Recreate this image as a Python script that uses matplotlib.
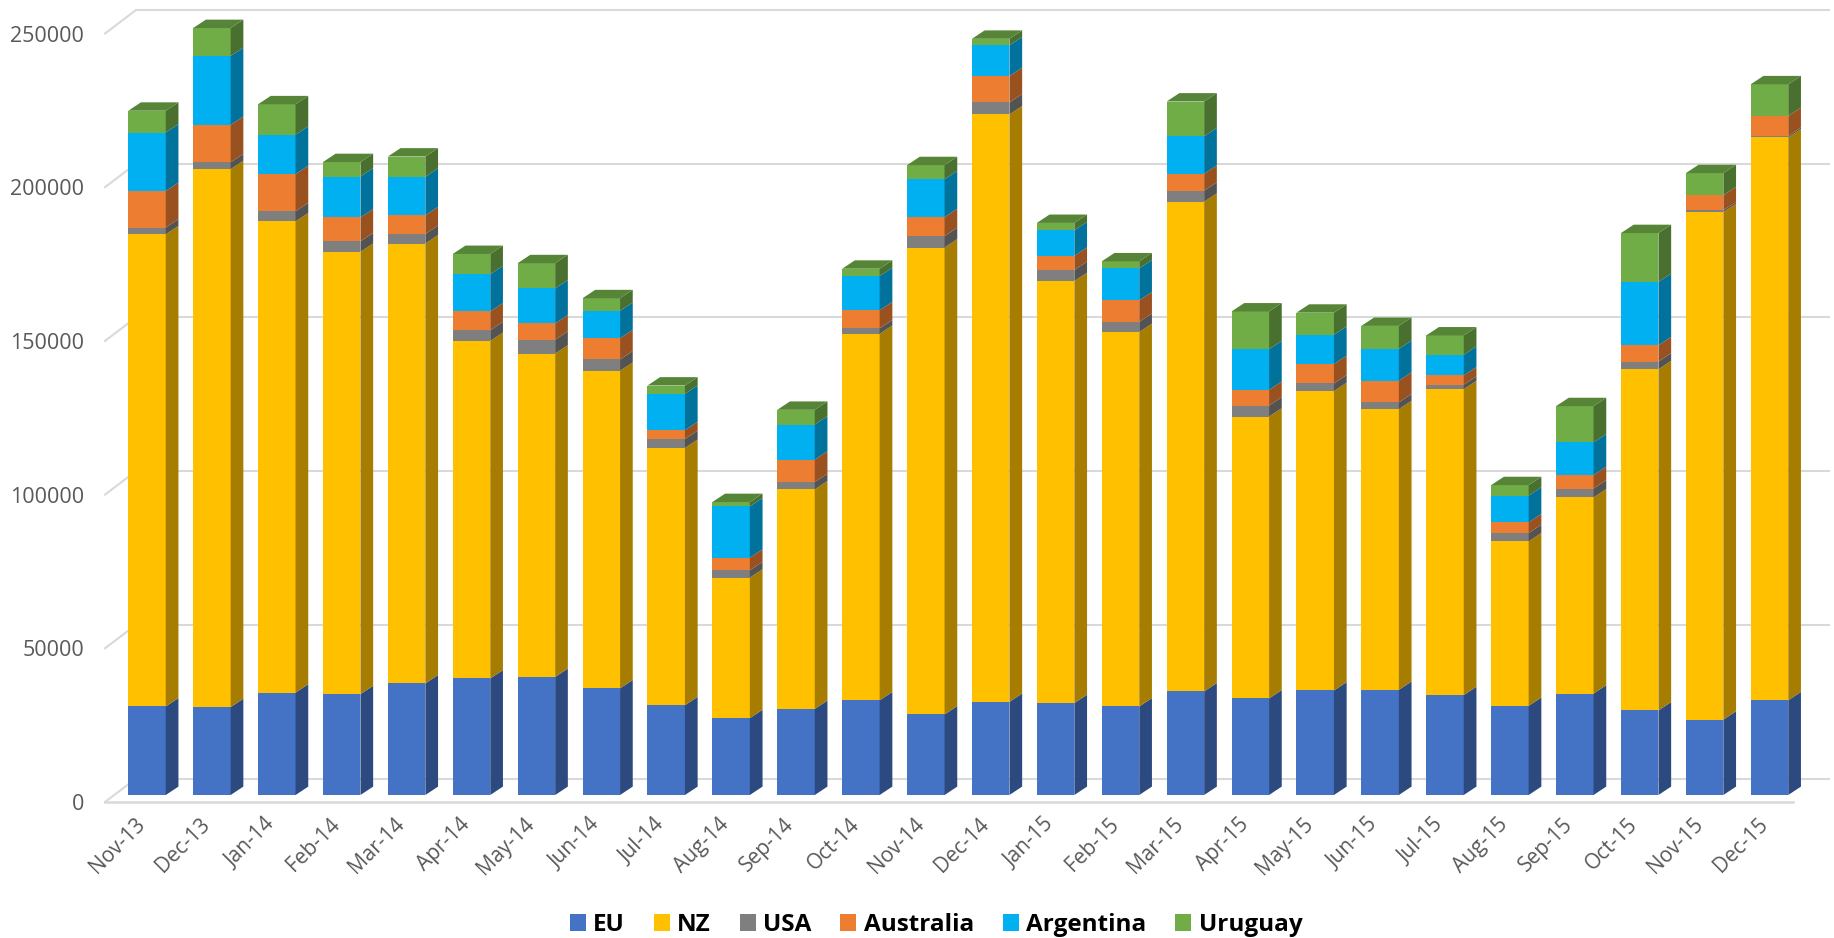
import numpy as np
import matplotlib
matplotlib.use('Agg')
import matplotlib.pyplot as plt
from matplotlib.patches import Polygon, Patch
from matplotlib.transforms import ScaledTranslation

plt.rcParams['font.family'] = ['Open Sans', 'DejaVu Sans']

months = ['Nov-13', 'Dec-13', 'Jan-14', 'Feb-14', 'Mar-14', 'Apr-14', 'May-14',
          'Jun-14', 'Jul-14', 'Aug-14', 'Sep-14', 'Oct-14', 'Nov-14', 'Dec-14',
          'Jan-15', 'Feb-15', 'Mar-15', 'Apr-15', 'May-15', 'Jun-15', 'Jul-15',
          'Aug-15', 'Sep-15', 'Oct-15', 'Nov-15', 'Dec-15']
series = ['EU', 'NZ', 'USA', 'Australia', 'Argentina', 'Uruguay']

eu = [28800, 28600, 33300, 32800, 36300, 37900, 38400, 34700, 29200, 25000,
      28000, 30800, 26200, 30300, 29900, 28800, 33700, 31400, 34000, 34200,
      32500, 29000, 33000, 27500, 24500, 30800]
nz = [153600, 175000, 153300, 143900, 143100, 109800, 105200, 103300, 83700,
      45700, 71400, 119200, 151900, 191100, 137300, 121800, 159300, 91700,
      97400, 91300, 99500, 53500, 63800, 111000, 165100, 183100]
usa = [2200, 2200, 3300, 3400, 3100, 3500, 4500, 3700, 2900, 2400, 2400, 1800,
       3700, 3900, 3600, 3300, 3600, 3600, 2500, 2200, 1500, 2700, 2900, 2500,
       600, 500]
australia = [11900, 12200, 12100, 7800, 6100, 6100, 5300, 6900, 2900, 4100,
             7300, 5900, 6200, 8600, 4600, 7000, 5500, 5100, 6300, 7100, 3000,
             3500, 4400, 5300, 4900, 6500]
argentina = [19000, 22400, 12800, 13300, 12500, 12100, 11400, 8900, 11800,
             16700, 11400, 11100, 12300, 10000, 8300, 10400, 12200, 13200, 9500,
             10300, 6700, 8700, 10600, 20600, 0, 0]
uruguay = [7100, 9100, 9900, 4700, 6600, 6600, 8200, 4100, 2700, 1400, 4800,
           2400, 4600, 2100, 2400, 2300, 11300, 12300, 7200, 7500, 6300, 3400,
           11800, 15900, 7200, 10300]

colors = ['#4472C4', '#FFC000', '#7F7F7F', '#ED7D31', '#00B0F0', '#70AD47']
yticks = [0, 50000, 100000, 150000, 200000, 250000]


def shade(c, f):
    r, g, b = matplotlib.colors.to_rgb(c)
    return (r * f, g * f, b * f)


# layout in pixels
W, H = 1834, 938
STEP = 64.9          # px between months
FIRST = 147          # px centre of first bar
BASE = 795           # px (from top) of value 0 on the bar front plane
SCALE = 768.5 / 250000  # px per unit

fig = plt.figure(figsize=(W / 100, H / 100), dpi=100)
ax = fig.add_axes([(FIRST - 0.5 * STEP) / W, (H - BASE) / H,
                   len(months) * STEP / W, BASE / H])
ax.set_xlim(-0.5, len(months) - 0.5)
ax.set_ylim(0, BASE / SCALE)


def px_x(p):
    return p / STEP


def px_y(p):
    return p / SCALE


x = np.arange(len(months))
width = px_x(37.5)
depth_x, depth_y = px_x(12.7), px_y(8.4)

# walls: front plane is 10px left / 7px below the bars, back wall 21px right / 16.5px up
front_left = px_x(-42)
front_right = px_x(1793 - FIRST)
front_dy = px_y(-7)
back_left = front_left + px_x(31)
back_right = px_x(1830 - FIRST)
back_dy = px_y(16.5)
grid_c = '#D9D9D9'
for v in yticks:
    ax.plot([back_left, back_right], [v + back_dy] * 2, color=grid_c, lw=1.5,
            zorder=1, clip_on=False, solid_capstyle='butt')
    ax.plot([front_left, back_left], [v + front_dy, v + back_dy], color=grid_c,
            lw=1.5, zorder=1, clip_on=False)
ax.plot([front_left, front_right], [front_dy] * 2, color=grid_c, lw=1.8,
        zorder=1, clip_on=False)

# stacked 3D-looking bars
data = [eu, nz, usa, australia, argentina, uruguay]
bottom = np.zeros(len(months))
tops = np.array(data).sum(axis=0)
for vals, c in zip(data, colors):
    vals = np.array(vals, dtype=float)
    ax.bar(x, vals, bottom=bottom, width=width, color=c, linewidth=0, zorder=3)
    side = shade(c, 0.65)
    for i in range(len(months)):
        if vals[i] <= 0:
            continue
        xr = x[i] + width / 2
        b0, b1 = bottom[i], bottom[i] + vals[i]
        ax.add_patch(Polygon([(xr, b0), (xr + depth_x, b0 + depth_y),
                              (xr + depth_x, b1 + depth_y), (xr, b1)],
                             closed=True, facecolor=side, edgecolor='none',
                             zorder=3))
        if np.isclose(b1, tops[i]):
            xl = x[i] - width / 2
            ax.add_patch(Polygon([(xl, b1), (xl + depth_x, b1 + depth_y),
                                  (xr + depth_x, b1 + depth_y), (xr, b1)],
                                 closed=True, facecolor=shade(c, 0.77),
                                 edgecolor='none', zorder=3))
    bottom += vals

for s in ax.spines.values():
    s.set_visible(False)

ax.set_yticks(yticks, [str(v) for v in yticks], fontsize=15.5, color='#595959')
ax.tick_params(axis='y', length=0, pad=22)
down = ScaledTranslation(0, -0.07, fig.dpi_scale_trans)
for lbl in ax.get_yticklabels():
    lbl.set_transform(lbl.get_transform() + down)

ax.set_xticks(x, months, rotation=45, ha='right', va='center',
              rotation_mode='anchor', fontsize=15, color='#595959')
ax.tick_params(axis='x', length=0, pad=19)
left = ScaledTranslation(-0.05, 0, fig.dpi_scale_trans)
for lbl in ax.get_xticklabels():
    lbl.set_transform(lbl.get_transform() + left)

handles = [Patch(facecolor=c, edgecolor='none') for c in colors]
fig.legend(handles, series, loc='center', bbox_to_anchor=(936 / W, 1 - 925 / H),
           ncol=6, frameon=False, prop={'weight': 'bold', 'size': 17.5},
           handlelength=0.65, handleheight=0.65, handletextpad=0.3,
           columnspacing=1.2)

fig.savefig('out.png', dpi=100)
